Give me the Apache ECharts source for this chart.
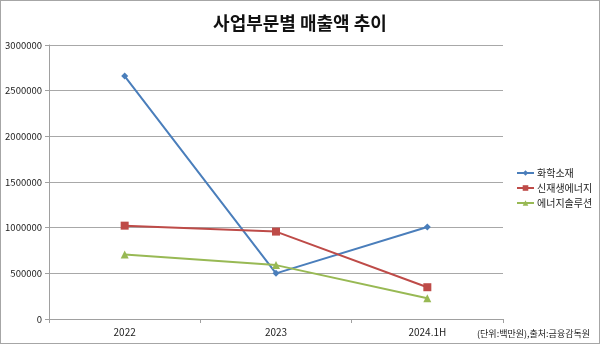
<!DOCTYPE html>
<html>
<head>
<meta charset="utf-8">
<script src="https://cdn.jsdelivr.net/npm/echarts@6/dist/echarts.min.js"></script>
<style>
  html, body { margin: 0; padding: 0; background: #fff; }
  #chart { width: 600px; height: 344px; box-sizing: border-box; border: 1px solid #a6a6a6; }
</style>
</head>
<body>
<div id="chart"></div>
<script>
// 사업부문별 매출액 (단위: 백만원)
const categories = ['2022', '2023', '2024.1H'];
const chemMaterials = [2660000, 500000, 1008000];   // 화학소재
const renewables = [1022000, 957000, 348000];       // 신재생에너지
const energySolutions = [706000, 590000, 228000];   // 에너지솔루션
const yTicks = { min: 0, max: 3000000, interval: 500000 };

const font = '"Noto Sans CJK KR", "Noto Sans", sans-serif';
const chart = echarts.init(document.getElementById('chart'), null, { renderer: 'canvas' });

function lineSeries(name, data, color, symbol, size) {
  return {
    name, type: 'line', data,
    symbol, symbolSize: size,
    lineStyle: { color, width: 2 },
    itemStyle: { color },
    emphasis: { disabled: true }
  };
}

chart.setOption({
  animation: false,
  title: {
    text: '사업부문별 매출액 추이',
    left: 'center', top: 8,
    textStyle: { fontFamily: font, fontSize: 18, fontWeight: 'bold', color: '#111' }
  },
  legend: {
    orient: 'vertical', left: 510, top: 162,
    itemWidth: 17, itemHeight: 7, itemGap: 5,
    textStyle: { fontFamily: font, fontSize: 10, color: '#222', padding: [0, 0, 0, -2] },
    data: ['화학소재', '신재생에너지', '에너지솔루션']
  },
  graphic: [{
    type: 'text', right: 9, top: 328,
    style: { text: '(단위:백만원),출처:금융감독원', font: '9px ' + font, fill: '#222' }
  }],
  grid: { left: 48, right: 96, top: 44, bottom: 24, containLabel: false, outerBoundsMode: 'none' },
  xAxis: {
    type: 'category', data: categories, boundaryGap: true,
    axisLine: { lineStyle: { color: '#a0a0a0' } },
    axisTick: { show: true, length: 4, lineStyle: { color: '#a0a0a0' } },
    axisLabel: { fontFamily: font, fontSize: 10, color: '#222', margin: 8 }
  },
  yAxis: {
    type: 'value', min: yTicks.min, max: yTicks.max, interval: yTicks.interval,
    axisLine: { show: true, lineStyle: { color: '#a0a0a0' } },
    axisTick: { show: true, length: 4, lineStyle: { color: '#a0a0a0' } },
    splitLine: { lineStyle: { color: '#a8a8a8' } },
    axisLabel: { fontFamily: font, fontSize: 9.5, color: '#222', margin: 7, formatter: v => String(v) }
  },
  series: [
    lineSeries('화학소재', chemMaterials, '#4a7ebb', 'diamond', 7),
    lineSeries('신재생에너지', renewables, '#be4b48', 'rect', 8),
    lineSeries('에너지솔루션', energySolutions, '#98b954', 'triangle', 8)
  ]
});
</script>
</body>
</html>
